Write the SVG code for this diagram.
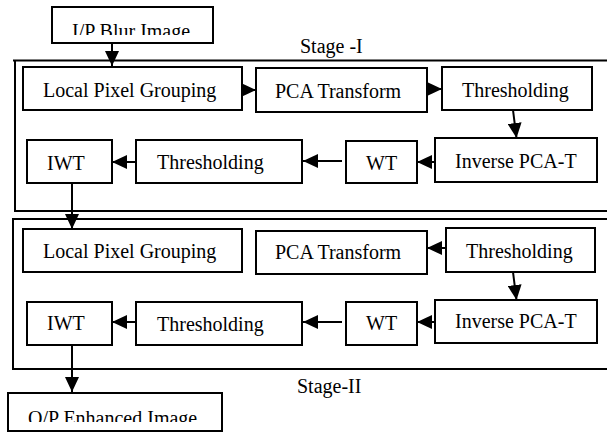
<svg xmlns="http://www.w3.org/2000/svg" width="607" height="432" viewBox="0 0 607 432">
<defs>
<style>
.box{fill:#fff;stroke:#000;stroke-width:2}
.frame{fill:none;stroke:#000;stroke-width:2}
.lbl{font-family:"Liberation Serif","Times New Roman",serif;font-size:20px;fill:#000}
.con{fill:none;stroke:#000;stroke-width:2;marker-end:url(#ah)}
</style>
<marker id="ah" markerUnits="userSpaceOnUse" markerWidth="15" markerHeight="14" refX="15" refY="7" orient="auto" viewBox="0 0 15 14">
<path d="M0,0 L15,7 L0,14 z" fill="#000"/>
</marker>
<clipPath id="clipIn"><rect x="52" y="7" width="161" height="28"/></clipPath>
<clipPath id="clipOut"><rect x="8" y="393" width="214" height="29"/></clipPath>
</defs>
<rect width="607" height="432" fill="#fff"/>

<g id="frames">
<path class="frame" d="M13,60.5 H607 M15,60.5 V211 H607"/>
<text class="lbl" x="300" y="53">Stage -I</text>
<path class="frame" d="M12,219 H607 M13,219 V369 H607"/>
<text class="lbl" x="297" y="393">Stage-II</text>
</g>

<g id="connectors">
<line class="con" x1="112" y1="43" x2="112" y2="66"/>
<line class="con" x1="242" y1="90" x2="256" y2="90"/>
<line class="con" x1="427" y1="89" x2="442" y2="89"/>
<line class="con" x1="513" y1="110" x2="516.5" y2="138"/>
<line class="con" x1="435" y1="162" x2="417" y2="162"/>
<line class="con" x1="342" y1="161" x2="303" y2="161"/>
<line class="con" x1="136" y1="162" x2="112" y2="162"/>
<line class="con" x1="72" y1="183" x2="72" y2="229"/>
<line class="con" x1="446" y1="248" x2="427" y2="248"/>
<line class="con" x1="513" y1="272" x2="516.5" y2="300"/>
<line class="con" x1="435" y1="322" x2="417" y2="322"/>
<line class="con" x1="342" y1="322" x2="303" y2="322"/>
<line class="con" x1="136" y1="322" x2="112" y2="322"/>
<line class="con" x1="72" y1="345" x2="72" y2="392"/>
</g>

<g id="ip">
<rect class="box" x="52" y="7" width="161" height="36"/>
<text class="lbl" x="72" y="38" clip-path="url(#clipIn)">I/P Blur Image</text>
</g>

<g id="s1-lpg"><rect class="box" x="23" y="67" width="219" height="43"/><text class="lbl" x="43" y="97">Local Pixel Grouping</text></g>
<g id="s1-pca"><rect class="box" x="256" y="68" width="171" height="44"/><text class="lbl" x="275" y="98">PCA Transform</text></g>
<g id="s1-th1"><rect class="box" x="442" y="67" width="150" height="43"/><text class="lbl" x="462" y="97">Thresholding</text></g>
<g id="s1-ipca"><rect class="box" x="435" y="138" width="162" height="44"/><text class="lbl" x="455" y="168">Inverse PCA-T</text></g>
<g id="s1-wt"><rect class="box" x="346" y="141" width="71" height="42"/><text class="lbl" x="366" y="170">WT</text></g>
<g id="s1-th2"><rect class="box" x="136" y="140" width="166" height="43"/><text class="lbl" x="157" y="169">Thresholding</text></g>
<g id="s1-iwt"><rect class="box" x="27" y="140" width="85" height="43"/><text class="lbl" x="47" y="170">IWT</text></g>

<g id="s2-lpg"><rect class="box" x="23" y="229" width="219" height="43"/><text class="lbl" x="43" y="258">Local Pixel Grouping</text></g>
<g id="s2-pca"><rect class="box" x="256" y="231" width="171" height="43"/><text class="lbl" x="275" y="259">PCA Transform</text></g>
<g id="s2-th1"><rect class="box" x="446" y="228" width="149" height="44"/><text class="lbl" x="466" y="258">Thresholding</text></g>
<g id="s2-ipca"><rect class="box" x="435" y="300" width="162" height="43"/><text class="lbl" x="455" y="328">Inverse PCA-T</text></g>
<g id="s2-wt"><rect class="box" x="346" y="302" width="71" height="43"/><text class="lbl" x="366" y="330">WT</text></g>
<g id="s2-th2"><rect class="box" x="136" y="302" width="166" height="43"/><text class="lbl" x="157" y="331">Thresholding</text></g>
<g id="s2-iwt"><rect class="box" x="27" y="302" width="85" height="43"/><text class="lbl" x="47" y="330">IWT</text></g>

<g id="op">
<rect class="box" x="8" y="393" width="214" height="38"/>
<text class="lbl" x="28" y="425" clip-path="url(#clipOut)">O/P Enhanced Image</text>
</g>
</svg>
